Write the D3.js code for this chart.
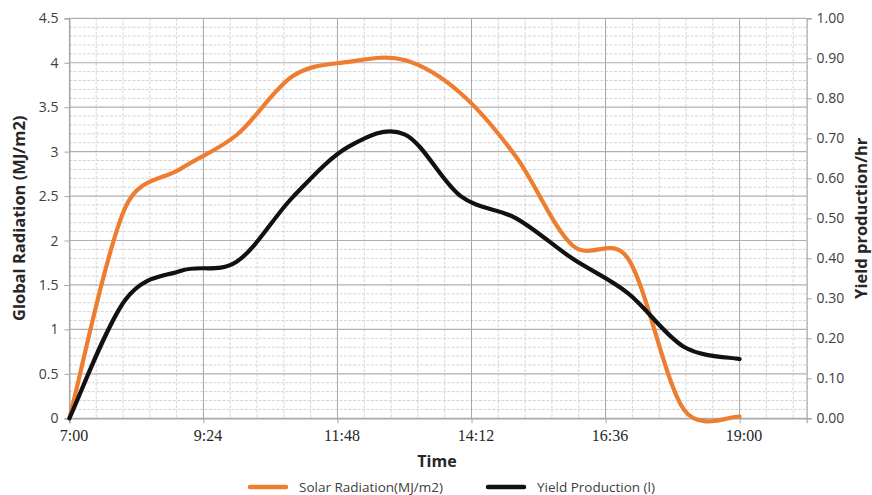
<!DOCTYPE html>
<html>
<head>
<meta charset="utf-8">
<script src="https://cdn.jsdelivr.net/npm/d3@7"></script>
<style>
  html, body { margin: 0; padding: 0; background: #ffffff; }
  svg { display: block; }
</style>
</head>
<body>
<svg id="chart" width="872" height="495"></svg>
<script>
// Hourly readings, 7:00 to 19:00
const hours = ["7:00", "8:00", "9:00", "10:00", "11:00", "12:00", "13:00",
               "14:00", "15:00", "16:00", "17:00", "18:00", "19:00"];
const solarRadiation = [0, 2.37, 2.81, 3.19, 3.85, 4.01, 4.03, 3.66, 2.94, 1.95, 1.80, 0.10, 0.02];
const yieldProduction = [0, 0.296, 0.369, 0.392, 0.553, 0.679, 0.71, 0.556, 0.50, 0.40, 0.313, 0.179, 0.148];

const timeTickLabels = ["7:00", "9:24", "11:48", "14:12", "16:36", "19:00"];
const radiationTicks = [0, 0.5, 1, 1.5, 2, 2.5, 3, 3.5, 4, 4.5];
const yieldTicks = [0, 0.1, 0.2, 0.3, 0.4, 0.5, 0.6, 0.7, 0.8, 0.9, 1.0];

const seriesNames = ["Solar Radiation(MJ/m2)", "Yield Production (l)"];
const seriesColors = ["#ED7D31", "#111111"];

const toMinutes = s => { const [h, m] = s.split(":").map(Number); return h * 60 + m; };

const svg = d3.select("#chart");
const plot = { left: 69.4, right: 806.6, top: 18.3, bottom: 418.3 };

// time axis spans 7:00 to 20:12 (0.2917 to 0.8417 of a day)
const x = d3.scaleLinear().domain([420, 1212]).range([plot.left, plot.right]);
const yLeft = d3.scaleLinear().domain([0, 4.5]).range([plot.bottom, plot.top]);
const yRight = d3.scaleLinear().domain([0, 1]).range([plot.bottom, plot.top]);

const minorStep = 28.8;
const majorX = timeTickLabels.map(toMinutes);
const minorX = d3.range(420, 1212, minorStep).filter(v => !majorX.some(m => Math.abs(m - v) < 1));
const minorY = d3.range(0, 4.5001, 0.1).filter(v => Math.abs(v / 0.5 - Math.round(v / 0.5)) > 1e-6);

const grid = svg.append("g");
// minor gridlines, dashed
grid.selectAll(".mx").data(minorX).join("line")
  .attr("x1", d => x(d)).attr("x2", d => x(d))
  .attr("y1", plot.top).attr("y2", plot.bottom)
  .attr("stroke", "#d4d4d4").attr("stroke-width", 1).attr("stroke-dasharray", "3,1.5");
grid.selectAll(".my").data(minorY).join("line")
  .attr("x1", plot.left).attr("x2", plot.right)
  .attr("y1", d => yLeft(d)).attr("y2", d => yLeft(d))
  .attr("stroke", "#d4d4d4").attr("stroke-width", 1).attr("stroke-dasharray", "3,1.5");
// major gridlines
grid.selectAll(".Mx").data(majorX).join("line")
  .attr("x1", d => x(d)).attr("x2", d => x(d))
  .attr("y1", plot.top).attr("y2", plot.bottom)
  .attr("stroke", "#a6a6a6").attr("stroke-width", 1);
grid.selectAll(".My").data(radiationTicks).join("line")
  .attr("x1", plot.left).attr("x2", plot.right)
  .attr("y1", d => yLeft(d)).attr("y2", d => yLeft(d))
  .attr("stroke", "#b0b0b0").attr("stroke-width", 1.2);

// axes
const axisColor = "#a6a6a6";
const leftAxis = svg.append("g").attr("transform", `translate(${plot.left},0)`)
  .call(d3.axisLeft(yLeft).tickValues(radiationTicks).tickSize(5).tickPadding(6)
    .tickFormat(d => String(d)));
const rightAxis = svg.append("g").attr("transform", `translate(${plot.right},0)`)
  .call(d3.axisRight(yRight).tickValues(yieldTicks).tickSize(5).tickPadding(5)
    .tickFormat(d3.format(".2f")));
const bottomAxis = svg.append("g").attr("transform", `translate(0,${plot.bottom})`)
  .call(d3.axisBottom(x).tickValues(majorX).tickSize(5).tickPadding(6)
    .tickFormat((d, i) => timeTickLabels[i]));

[leftAxis, rightAxis, bottomAxis].forEach(g => {
  g.select(".domain").attr("stroke", axisColor).attr("stroke-width", 1.2);
  g.selectAll(".tick line").attr("stroke", axisColor).attr("stroke-width", 1);
});
leftAxis.selectAll("text").attr("font-family", "'Open Sans', sans-serif")
  .attr("font-size", 14).attr("fill", "#404040");
rightAxis.selectAll("text").attr("font-family", "'Open Sans', sans-serif")
  .attr("font-size", 14).attr("fill", "#404040");
bottomAxis.selectAll("text").attr("font-family", "'Liberation Serif', 'Times New Roman', serif")
  .attr("font-size", 16).attr("fill", "#262626").attr("dx", 4);

// Smoothed line: cubic Bezier through each point, tangent = (next - previous) / 6,
// with each control arm limited to half of its segment's length.
function smoothPath(pts) {
  const p = d3.path();
  const dist = (a, b) => Math.hypot(a[0] - b[0], a[1] - b[1]);
  p.moveTo(pts[0][0], pts[0][1]);
  for (let i = 0; i < pts.length - 1; i++) {
    const p0 = pts[i - 1] || pts[i], p1 = pts[i], p2 = pts[i + 1], p3 = pts[i + 2] || pts[i + 1];
    const d12 = dist(p1, p2), d02 = dist(p0, p2), d13 = dist(p1, p3);
    let f0 = 1 / 6, f1 = 1 / 6;
    if (d02 / 6 >= d12 / 2) f0 = d12 / (2 * d02);
    if (d13 / 6 >= d12 / 2) f1 = d12 / (2 * d13);
    p.bezierCurveTo(
      p1[0] + (p2[0] - p0[0]) * f0, p1[1] + (p2[1] - p0[1]) * f0,
      p2[0] - (p3[0] - p1[0]) * f1, p2[1] - (p3[1] - p1[1]) * f1,
      p2[0], p2[1]);
  }
  return p.toString();
}

const times = hours.map(toMinutes);
const solarPts = solarRadiation.map((v, i) => [x(times[i]), yLeft(v)]);
const yieldPts = yieldProduction.map((v, i) => [x(times[i]), yRight(v)]);

svg.append("path").attr("d", smoothPath(solarPts))
  .attr("fill", "none").attr("stroke", seriesColors[0]).attr("stroke-width", 4.2)
  .attr("stroke-linejoin", "round").attr("stroke-linecap", "round");
svg.append("path").attr("d", smoothPath(yieldPts))
  .attr("fill", "none").attr("stroke", seriesColors[1]).attr("stroke-width", 4.2)
  .attr("stroke-linejoin", "round").attr("stroke-linecap", "round");

// axis titles
const titleFont = "'Open Sans', sans-serif";
svg.append("text").attr("transform", `translate(25,${(plot.top + plot.bottom) / 2}) rotate(-90)`)
  .attr("text-anchor", "middle").attr("font-family", titleFont).attr("font-weight", 700)
  .attr("font-size", 16.5).attr("fill", "#262626").text("Global Radiation (MJ/m2)");
svg.append("text").attr("transform", `translate(866.5,${(plot.top + plot.bottom) / 2}) rotate(-90)`)
  .attr("text-anchor", "middle").attr("font-family", titleFont).attr("font-weight", 700)
  .attr("font-size", 16.5).attr("fill", "#262626").text("Yield production/hr");
svg.append("text").attr("x", 437).attr("y", 467)
  .attr("text-anchor", "middle").attr("font-family", titleFont).attr("font-weight", 700)
  .attr("font-size", 16).attr("fill", "#262626").text("Time");

// legend
const legendItems = [
  { name: seriesNames[0], color: seriesColors[0], x0: 250, x1: 286, tx: 299 },
  { name: seriesNames[1], color: seriesColors[1], x0: 488, x1: 524, tx: 537 }
];
const legend = svg.append("g");
legendItems.forEach(it => {
  legend.append("line").attr("x1", it.x0).attr("x2", it.x1).attr("y1", 487).attr("y2", 487)
    .attr("stroke", it.color).attr("stroke-width", 4.5).attr("stroke-linecap", "round");
  legend.append("text").attr("x", it.tx).attr("y", 492)
    .attr("font-family", "'Open Sans', sans-serif").attr("font-size", 13.5)
    .attr("fill", "#404040").text(it.name);
});
</script>
</body>
</html>
